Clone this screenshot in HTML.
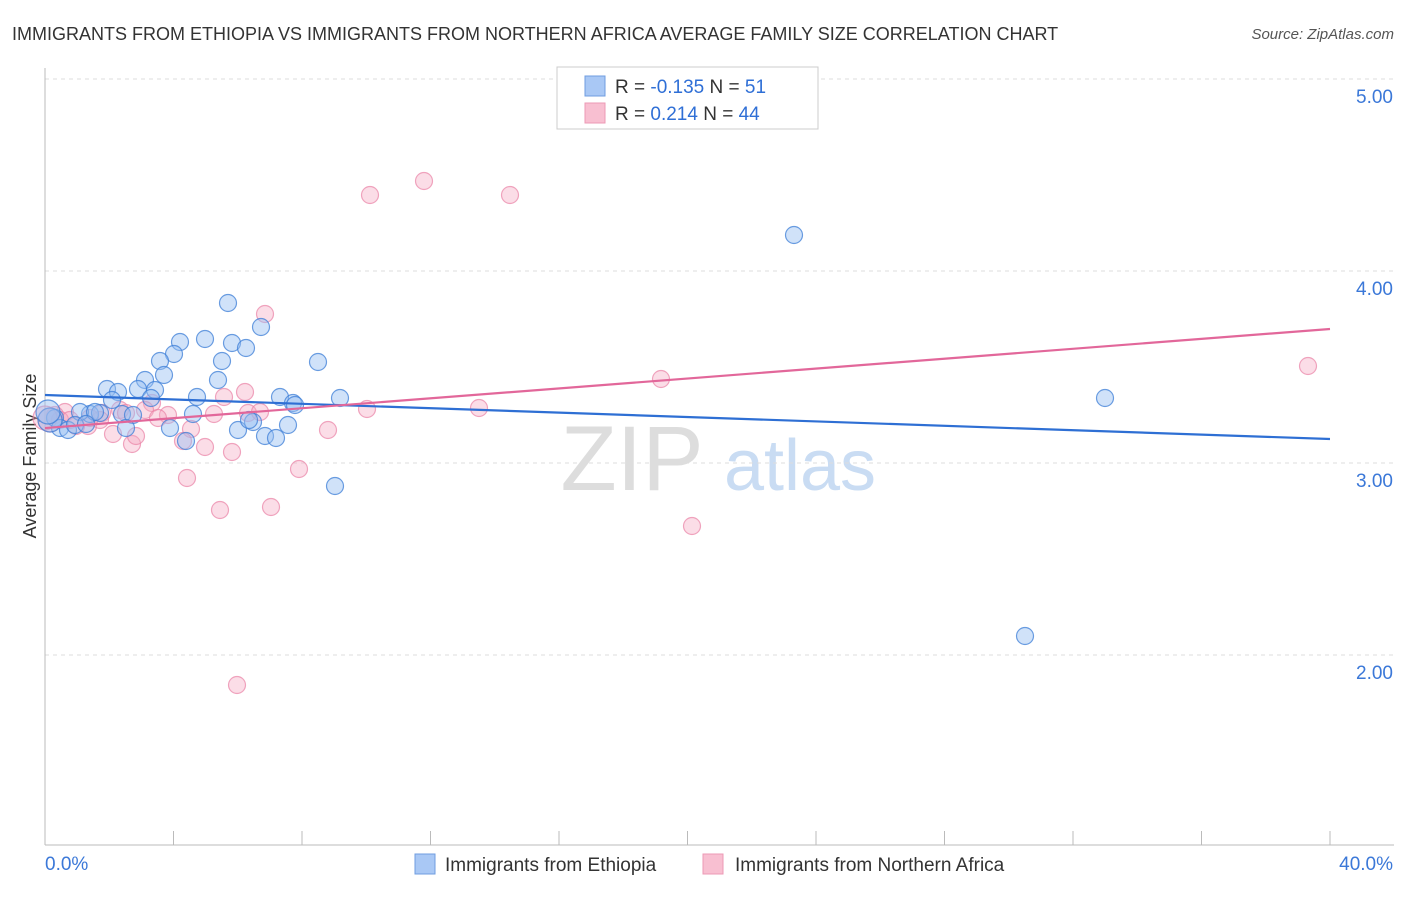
<!DOCTYPE html>
<html><head><meta charset="utf-8"><style>
body{margin:0;background:#fff;font-family:"Liberation Sans",sans-serif;}
svg text{font-family:"Liberation Sans",sans-serif;}
</style></head><body>
<svg id="c" width="1406" height="892" xmlns="http://www.w3.org/2000/svg">
<text x="12" y="40" font-size="18" fill="#333">IMMIGRANTS FROM ETHIOPIA VS IMMIGRANTS FROM NORTHERN AFRICA AVERAGE FAMILY SIZE CORRELATION CHART</text>
<text x="1394" y="39" font-size="15" fill="#555" font-style="italic" text-anchor="end">Source: ZipAtlas.com</text>
<text x="36" y="456" font-size="18" fill="#333" text-anchor="middle" transform="rotate(-90 36 456)">Average Family Size</text>
<g><text x="632" y="490" font-size="92" fill="#ddd" font-family="Liberation Serif" text-anchor="middle">ZIP</text><text x="800" y="490" font-size="72" fill="#c9dcf3" text-anchor="middle">atlas</text></g>
<g id="grid"></g><g id="axes"></g><g id="pts"></g><g id="lines"></g>
<g>
<rect x="557" y="67" width="261" height="62" fill="#fff" stroke="#ccc"/>
<rect x="585" y="76" width="20" height="20" fill="#a9c8f5" stroke="#6f9de0"/>
<rect x="585" y="103" width="20" height="20" fill="#f8bfd1" stroke="#ec9ab5"/>
<text x="615" y="93" font-size="19" fill="#333">R = <tspan fill="#2f6fd6">-0.135</tspan>   N = <tspan fill="#2f6fd6">51</tspan></text>
<text x="615" y="120" font-size="19" fill="#333">R = <tspan fill="#2f6fd6"> 0.214</tspan>   N = <tspan fill="#2f6fd6">44</tspan></text>
</g>
<g>
<rect x="415" y="854" width="20" height="20" fill="#a9c8f5" stroke="#6f9de0"/>
<text x="445" y="871" font-size="19" fill="#333">Immigrants from Ethiopia</text>
<rect x="703" y="854" width="20" height="20" fill="#f8bfd1" stroke="#ec9ab5"/>
<text x="735" y="871" font-size="19" fill="#333">Immigrants from Northern Africa</text>
</g>
</svg>
<script>
const yTicks=[5,4,3,2];
const yTickLabels=["5.00","4.00","3.00","2.00"];
const xLabels=["0.0%","40.0%"];
const ethX=[228,180,205,232,246,261,174,160,222,164,145,218,107,118,138,155,112,151,197,280,293,295,318,340,193,122,133,90,100,80,95,170,126,238,253,249,265,276,288,186,335,55,60,68,75,86,794,1105,1025,50,48];
const ethY=[303,342,339,343,348,327,354,361,361,375,380,380,389,392,389,390,400,398,397,397,403,405,362,398,414,414,415,414,413,412,412,428,428,430,422,420,436,438,425,441,486,418,428,430,425,424,235,398,636,420,412];
const nafX=[424,370,510,265,661,1308,245,224,152,367,479,168,214,248,260,145,120,102,65,55,88,76,113,132,136,191,183,205,232,328,299,187,220,271,692,237,100,60,50,45,70,158,126,90];
const nafY=[181,195,195,314,379,366,392,397,403,409,408,415,414,413,412,410,410,413,412,415,426,426,434,444,436,429,441,447,452,430,469,478,510,507,526,685,420,420,420,418,420,418,413,418];
const ethLine=[3.354,3.125], nafLine=[3.182,3.698];
const X0=45,X1=1330;
const sx=v=>X0+(v/40)*(X1-X0);
const sy=v=>79+(5-v)*192;
// convert pixel estimates into data values
const eth=ethX.map((x,i)=>[(x-45)/1285*40,5-(ethY[i]-79)/192]);
const naf=nafX.map((x,i)=>[(x-45)/1285*40,5-(nafY[i]-79)/192]);
const NS="http://www.w3.org/2000/svg";
function mk(t,a,p){const e=document.createElementNS(NS,t);for(const k in a)e.setAttribute(k,a[k]);document.getElementById(p).appendChild(e);return e;}
yTicks.forEach((v,i)=>{
 const l=mk('line',{x1:45,x2:1394,y1:sy(v),y2:sy(v),stroke:'#ddd','stroke-dasharray':'4 4'},'grid');
 
 
 const t=mk('text',{x:1393,y:sy(v)+24,'font-size':19,fill:'#3b78d8','text-anchor':'end'},'axes');
 t.textContent=yTickLabels[i];
 
 
});
const ax=mk('line',{x1:45,x2:1394,y1:845,y2:845,stroke:'#bbb'},'axes');


const ay=mk('line',{x1:45,x2:45,y1:68,y2:845,stroke:'#bbb'},'axes');


for(let i=0;i<=10;i++){const t=mk('line',{x1:sx(i*4),x2:sx(i*4),y1:831,y2:845,stroke:'#bbb'},'axes');
 
 }
[[45,'start'],[1393,'end']].forEach((p,i)=>{const t=mk('text',{x:p[0],y:870,'font-size':19,fill:'#3b78d8','text-anchor':p[1]},'axes');t.textContent=xLabels[i];
 
 });
function pts(d,f,s,n){d.forEach((p,i)=>{const c=mk('circle',{cx:sx(p[0]),cy:sy(p[1]),r:(p[0]<0.2?12:8.5),fill:f,stroke:s,'stroke-width':1.2},'pts');
 
 });}
pts(naf,'rgba(246,170,195,0.4)','rgba(233,130,165,0.7)','northern-africa-point');
pts(eth,'rgba(150,190,242,0.45)','rgba(60,125,215,0.75)','ethiopia-point');
const l1=mk('line',{x1:sx(0),x2:sx(40),y1:sy(ethLine[0]),y2:sy(ethLine[1]),stroke:'#2e6fd4','stroke-width':2.2},'lines');


const l2=mk('line',{x1:sx(0),x2:sx(40),y1:sy(nafLine[0]),y2:sy(nafLine[1]),stroke:'#e2679a','stroke-width':2.2},'lines');


</script>
</body></html>
